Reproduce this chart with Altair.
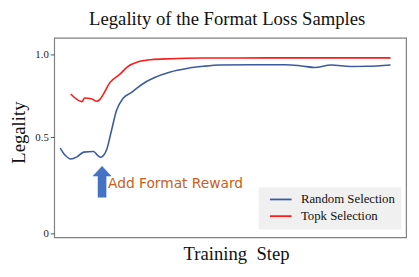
import altair as alt
import pandas as pd

random_steps = [1.7, 3.2, 4.7, 6.5, 8.4, 11.2, 12.4, 13.2, 14.0, 14.9, 16.3, 17.7, 19.6, 21.9, 23.7, 26.0, 28.4, 33.0, 37.7, 42.4, 47.0, 56.3, 65.6, 70.3, 74.0, 78.7, 84.3, 88.9, 95.6]
random_vals = [0.444, 0.405, 0.387, 0.398, 0.423, 0.426, 0.405, 0.396, 0.405, 0.435, 0.543, 0.662, 0.737, 0.771, 0.801, 0.835, 0.861, 0.896, 0.917, 0.930, 0.938, 0.940, 0.940, 0.932, 0.923, 0.938, 0.929, 0.930, 0.938]

topk_steps = [4.7, 7.9, 8.6, 10.7, 12.1, 13.0, 14.0, 15.8, 18.6, 21.0, 23.7, 27.5, 33.0, 42.4, 60.0, 80.0, 95.6]
topk_vals = [0.762, 0.716, 0.738, 0.732, 0.718, 0.730, 0.762, 0.831, 0.881, 0.930, 0.956, 0.970, 0.976, 0.980, 0.981, 0.981, 0.981]

series_names = ["Random Selection", "Topk Selection"]
series_colors = ["#3A5BA0", "#FF1A1A"]

annot_step = [13.6]
annot_val = [0.269]
annot_text_step = [15.3]
annot_text_val = [0.258]
annot_text = ["Add Format Reward"]

rows = []
for s, v in zip(random_steps, random_vals):
    rows.append({"step": s, "value": v, "series": series_names[0]})
for s, v in zip(topk_steps, topk_vals):
    rows.append({"step": s, "value": v, "series": series_names[1]})
df = pd.DataFrame(rows)

arrow_df = pd.DataFrame({"step": annot_step, "value": annot_val})
text_df = pd.DataFrame({"step": annot_text_step, "value": annot_text_val, "label": annot_text})

W, H = 358, 203
xscale = alt.Scale(domain=[0, 100])
yscale = alt.Scale(domain=[-0.02, 0, 0.5, 1.103], range=[H, 199, 101.3, 0])

x_enc = alt.X("step:Q", scale=xscale,
              axis=alt.Axis(labels=False, ticks=False, domain=False, grid=False,
                            title="Training\u00a0 Step", titleFont="Liberation Serif",
                            titleFontSize=19, titleFontWeight="normal", titleColor="#111",
                            titlePadding=8, titleX=185))
y_enc = alt.Y("value:Q", scale=yscale,
              axis=alt.Axis(values=[0, 0.5, 1.0], grid=False, domain=False,
                            labelExpr="datum.value == 0 ? '0' : format(datum.value, '.1f')",
                            labelFont="Liberation Serif", labelFontSize=11, labelColor="#222",
                            tickSize=4, tickColor="#555", labelPadding=2,
                            title="Legality", titleFont="Liberation Serif", titleFontSize=19,
                            titleFontWeight="normal", titleColor="#111", titleAngle=-90,
                            titleX=-36, titleY=96, titleAlign="center", titleBaseline="middle"))

lines = alt.Chart(df).mark_line(strokeWidth=1.6, interpolate="monotone").encode(
    x=x_enc, y=y_enc,
    color=alt.Color("series:N", scale=alt.Scale(domain=series_names, range=series_colors),
                    legend=alt.Legend(title=None, orient="none", legendX=208, legendY=152,
                                      symbolType="M-2,0L2,0", symbolSize=121, symbolStrokeWidth=1.8,
                                      symbolOffset=10, labelOffset=14,
                                      labelFont="Liberation Serif", labelFontSize=13, labelColor="#111",
                                      fillColor="#F0F0F0", padding=6, rowPadding=3)),
    detail="series:N",
)

arrow = alt.Chart(arrow_df).mark_point(
    shape="M-0.26,1 L0.26,1 L0.26,-0.36 L0.58,-0.36 L0,-1 L-0.58,-0.36 L-0.26,-0.36 Z",
    filled=True, fill="#4472C4", stroke="#4472C4", strokeWidth=0.5, size=1000, opacity=1,
).encode(x=alt.X("step:Q", scale=xscale), y=alt.Y("value:Q", scale=yscale))

text = alt.Chart(text_df).mark_text(
    align="left", baseline="middle", font="DejaVu Sans", fontSize=14, color="#C8601A",
).encode(x=alt.X("step:Q", scale=xscale), y=alt.Y("value:Q", scale=yscale), text="label:N")

chart = alt.layer(lines, arrow, text).properties(
    width=W, height=H,
    title=alt.TitleParams("Legality of the Format Loss Samples", font="Liberation Serif",
                          fontSize=19, fontWeight="normal", color="#111", anchor="middle",
                          offset=9, dx=-3),
    autosize=alt.AutoSizeParams(type="none"),
    padding={"left": 47, "top": 28, "right": 5, "bottom": 30},
).configure_view(stroke="#808080", strokeWidth=1.2)

chart.save("out.html", embed_options={"renderer": "svg", "actions": False})
